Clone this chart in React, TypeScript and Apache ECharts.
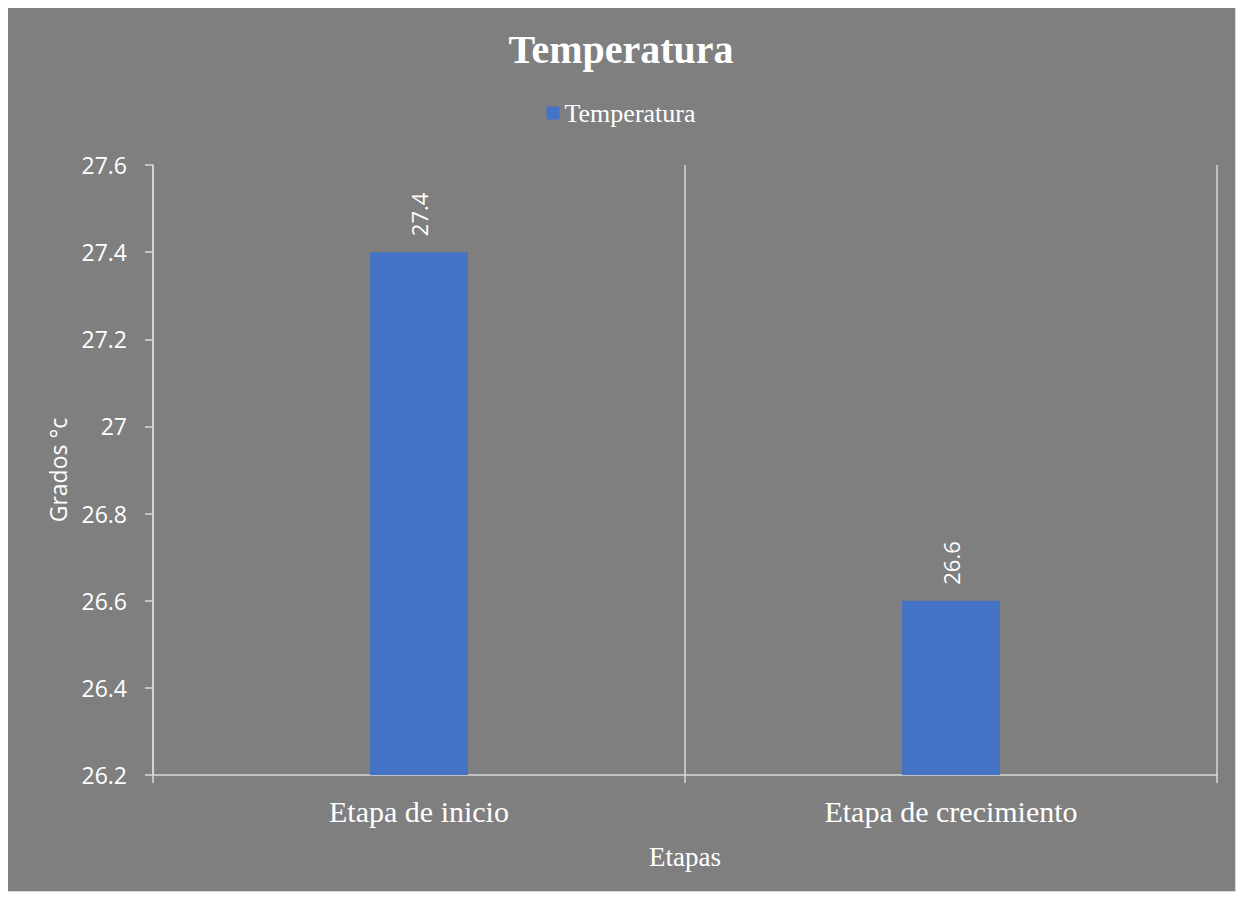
import React, { useEffect, useRef } from "react";
import * as echarts from "echarts";

const categories = ["Etapa de inicio", "Etapa de crecimiento"];
const temperatura = [27.4, 26.6];
const seriesName = "Temperatura";
const titleText = "Temperatura";
const yAxisName = "Grados °c";
const xAxisName = "Etapas";

export default function App() {
  const ref = useRef<HTMLDivElement>(null);
  useEffect(() => {
    if (!ref.current) return;
    const chart = echarts.init(ref.current, undefined, { renderer: "svg" });
    const white = "#ffffff";
    const line = "#d9d9d9";
    const serif = "'Liberation Serif', 'Times New Roman', serif";
    const sans = "'Open Sans', 'Noto Sans', sans-serif";
    chart.setOption({
      animation: false,
      backgroundColor: "#7f7f7f",
      title: {
        text: titleText,
        left: "center",
        top: 17,
        textStyle: { color: white, fontFamily: serif, fontWeight: "bold", fontSize: 40 },
      },
      legend: {
        top: 88,
        left: "center",
        itemWidth: 13,
        itemHeight: 13,
        itemGap: 8,
        icon: "rect",
        textStyle: { color: white, fontFamily: serif, fontSize: 26 },
        data: [seriesName],
      },
      grid: { left: 146, right: 18, top: 158, bottom: 116 },
      xAxis: {
        type: "category",
        data: categories,
        boundaryGap: true,
        name: xAxisName,
        nameLocation: "middle",
        nameGap: 68,
        nameTextStyle: { color: white, fontFamily: serif, fontSize: 27 },
        axisLine: { show: true, lineStyle: { color: line, width: 1.5 } },
        axisTick: { show: true, length: 8, lineStyle: { color: line, width: 1.5 } },
        axisLabel: { color: white, fontFamily: serif, fontSize: 30, margin: 21 },
        splitLine: { show: true, lineStyle: { color: line, width: 1.5 } },
      },
      yAxis: {
        type: "value",
        min: 26.2,
        max: 27.6,
        interval: 0.2,
        name: yAxisName,
        nameLocation: "middle",
        nameGap: 84,
        nameTextStyle: { color: white, fontFamily: sans, fontSize: 23 },
        axisLine: { show: true, lineStyle: { color: line, width: 1.5 } },
        axisTick: { show: true, length: 8, lineStyle: { color: line, width: 1.5 } },
        axisLabel: {
          color: white,
          fontFamily: sans,
          fontSize: 23,
          margin: 26,
          formatter: (v: number) => String(parseFloat(v.toFixed(1))),
        },
        splitLine: { show: false },
      },
      series: [
        {
          name: seriesName,
          type: "bar",
          data: temperatura,
          barWidth: "18.4%",
          itemStyle: { color: "#4472c4" },
          label: {
            show: true,
            position: "top",
            rotate: 90,
            align: "left",
            verticalAlign: "middle",
            distance: 16,
            color: white,
            fontFamily: sans,
            fontSize: 22,
          },
        },
      ],
    });
    return () => chart.dispose();
  }, []);
  return (
    <div
      style={{
        width: 1230,
        height: 886,
        border: "1px solid #d9d9d9",
        marginLeft: -2,
        marginTop: -2,
        boxSizing: "border-box",
      }}
    >
      <div ref={ref} style={{ width: 1228, height: 884 }} />
    </div>
  );
}
